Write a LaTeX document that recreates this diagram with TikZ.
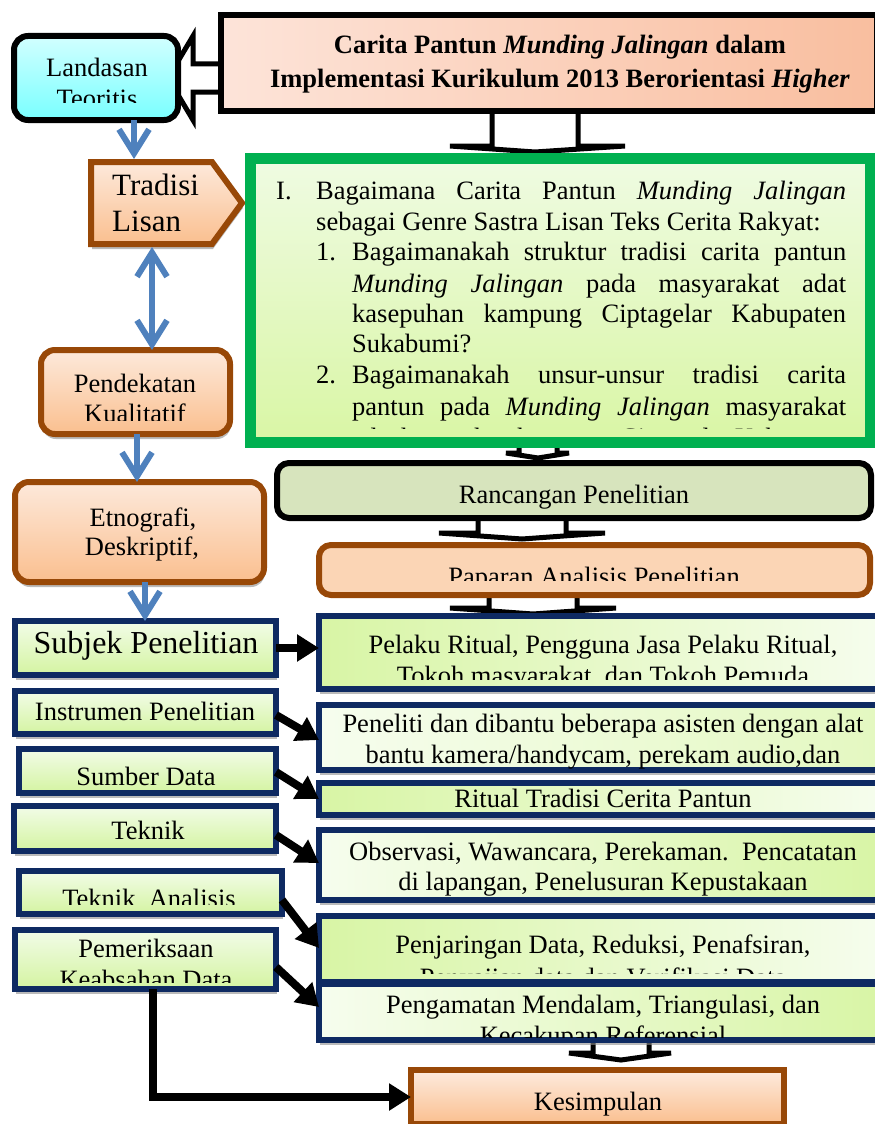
\documentclass[tikz,border=0pt]{standalone}
\usepackage{fontspec}
\setmainfont{Liberation Serif}
\usetikzlibrary{arrows.meta,shadows}
\pgfdeclarelayer{bg}
\pgfsetlayers{bg,main}
\definecolor{navy}{HTML}{0E2A62}
\definecolor{brn}{HTML}{984807}
\definecolor{grn}{HTML}{00B050}
\definecolor{blu}{HTML}{4F81BD}
\definecolor{ttlL}{HTML}{FDE4D9}
\definecolor{ttlR}{HTML}{F9BE9F}
\definecolor{cyT}{HTML}{D2FFFF}
\definecolor{cyB}{HTML}{78FFFF}
\definecolor{ort}{HTML}{FDE9DB}
\definecolor{orb}{HTML}{FABF8F}
\definecolor{lgt}{HTML}{F2FCE8}
\definecolor{lgb}{HTML}{D4F4A1}
\definecolor{lgA}{HTML}{D8F5A5}
\definecolor{lgW}{HTML}{F6FDEE}
\definecolor{qT}{HTML}{EFFBE2}
\definecolor{qB}{HTML}{D9F6A5}
\definecolor{ranc}{HTML}{D7E4BD}
\definecolor{papf}{HTML}{FBD5B5}
\newcommand\fsn{\fontsize{26.5pt}{30pt}\selectfont}
\newcommand\fsbig{\fontsize{31pt}{36pt}\selectfont}
\newcommand\fssub{\fontsize{32pt}{36pt}\selectfont}
\begin{document}
\begin{tikzpicture}[x=1pt,y=-1pt,
  shd/.style={drop shadow={shadow xshift=1pt,shadow yshift=-5pt,fill=black!45,opacity=0.6}},
  bx/.style={draw,line width=6pt,inner sep=0pt,outer sep=0pt},
  nbox/.style={bx,draw=navy,shd},
  lbox/.style={nbox,top color=lgt,bottom color=lgb},
  rbox/.style={nbox,minimum width=568pt},
  obox/.style={bx,draw=brn,rounded corners=14pt,top color=ort,bottom color=orb,shd},
  txt/.style={inner sep=0pt,anchor=base,font=\fsn},
  bluarr/.style={line width=6pt,draw=blu,-{Straight Barb[length=24pt,width=30pt]}},
  bludbl/.style={line width=6pt,draw=blu,{Straight Barb[length=24pt,width=30pt]}-{Straight Barb[length=24pt,width=30pt]}},
  blkarr/.style={line width=8pt,draw=black,-{Triangle[length=22pt,width=26pt]}},
  blockarr/.style={draw=black,fill=white,line width=5pt,line join=miter}
]
\useasboundingbox (0,0) rectangle (875,1124);

% ---------- boxes ----------
\node[bx,draw=black,left color=ttlL,right color=ttlR,minimum width=656pt,minimum height=96pt] (ttl) at (549,63) {};
\node[bx,draw=black,rounded corners=14pt,top color=cyT,bottom color=cyB,minimum width=164pt,minimum height=84pt] (land) at (96,78) {};
% Tradisi Lisan (pentagon arrow shape)
\path[draw=brn,line width=6pt,line join=miter,top color=ort,bottom color=orb,shd]
  (91,162) -- (212,162) -- (242,203) -- (212,244) -- (91,244) -- cycle;
\node[inner sep=0pt,outer sep=0pt,minimum width=151pt,minimum height=88pt] (trad) at (166.5,203) {};
\node[obox,minimum width=189pt,minimum height=84pt] (pend) at (135.5,392) {};
\node[obox,minimum width=249pt,minimum height=100pt] (etno) at (139.5,532) {};

\node[bx,draw=grn,line width=11pt,top color=qT,bottom color=qB,shd,minimum width=620pt,minimum height=284pt] (q) at (560.5,300.5) {};
\node[bx,draw=black,rounded corners=12pt,fill=ranc,minimum width=594pt,minimum height=55pt] (rc) at (574,490.5) {};
\node[bx,draw=brn,rounded corners=12pt,fill=papf,minimum width=551pt,minimum height=50pt] (pap) at (594.5,570) {};

\node[lbox,minimum width=261pt,minimum height=54pt] (subj) at (145.5,648) {};
\node[lbox,minimum width=261pt,minimum height=43pt] (instr) at (145.5,712.5) {};
\node[lbox,minimum width=257pt,minimum height=44pt] (sumb) at (147.5,771) {};
\node[lbox,minimum width=262pt,minimum height=45pt] (tek) at (145,828.5) {};
\node[lbox,minimum width=263pt,minimum height=43pt] (anal) at (150.5,892.5) {};
\node[lbox,minimum width=261pt,minimum height=59pt] (pem) at (145.5,959.5) {};

\node[rbox,left color=lgA,right color=lgW,minimum height=73pt] (pel) at (603,652.5) {};
\node[rbox,left color=lgW,right color=lgA!70!white,minimum height=65pt] (pnl) at (603,737.5) {};
\node[rbox,left color=lgA,right color=lgW,minimum height=32pt] (rit) at (603,799) {};
\node[rbox,left color=lgW,right color=lgA,minimum height=70pt] (obs) at (603,865) {};
\node[rbox,left color=lgA,right color=lgW,minimum height=66pt] (pnj) at (603,949) {};

% text of Penjaringan (partly hidden under the next box)
\begin{scope}
\clip (300,915) rectangle (890,973);
\node[txt] (tpnj1) at (603,953) {Penjaringan Data, Reduksi, Penafsiran,};
\node[txt] (tpnj2) at (603,986) {Penyajian data dan Verifikasi Data};
\end{scope}

\node[rbox,left color=lgW,right color=lgA,minimum height=56pt] (pgm) at (603,1012) {};
\node[bx,draw=brn,top color=ort!90!white,bottom color=orb,minimum width=373pt,minimum height=54pt] (kes) at (597.5,1097) {};

% ---------- block arrows (behind boxes) ----------
\begin{pgfonlayer}{bg}
\path[blockarr] (222,64) -- (193,64) -- (193,36) -- (168,78) -- (193,120) -- (193,92) -- (222,92) -- cycle;
\path[blockarr] (492,108) -- (492,146) -- (450,146) -- (535,152) -- (625,146) -- (578,146) -- (578,108) -- cycle;
\path[blockarr] (519,436) -- (519,453) -- (506,453) -- (538,458) -- (569,453) -- (557,453) -- (557,436) -- cycle;
\path[blockarr] (478,516) -- (478,533) -- (439,533) -- (522,539) -- (605,533) -- (566,533) -- (566,516) -- cycle;
\path[blockarr] (489,593) -- (489,608) -- (450,608) -- (533,614) -- (616,608) -- (577,608) -- (577,593) -- cycle;
\path[blockarr] (593,1036) -- (593,1053) -- (569,1053) -- (621,1060) -- (671,1053) -- (649,1053) -- (649,1036) -- cycle;
\end{pgfonlayer}

% ---------- texts ----------
\node[txt,font=\fsn\bfseries] (tt1) at (560,53) {Carita Pantun \textit{Munding Jalingan} dalam};
\node[txt,font=\fsn\bfseries] (tt2) at (560,87) {Implementasi Kurikulum 2013 Berorientasi \textit{Higher}};

\begin{scope}
\clip (20,40) rectangle (175,102);
\node[txt] (tl1) at (97,77) {Landasan};
\node[txt] (tl2) at (97,107) {Teoritis};
\end{scope}

\node[txt,anchor=base west,font=\fsbig] (tr1) at (112,195) {Tradisi};
\node[txt,anchor=base west,font=\fsbig] (tr2) at (112,231) {Lisan};

\begin{scope}
\clip (45,350) rectangle (225,420);
\node[txt] (tp1) at (135,392) {Pendekatan};
\node[txt] (tp2) at (135,422) {Kualitatif};
\end{scope}

\node[txt] (te1) at (143,526) {Etnografi,};
\node[txt] (te2) at (142,555) {Deskriptif,};

\begin{scope}
\clip (255,160) rectangle (866,428);
\node[txt,anchor=base west] (qI) at (276,199) {I.};
\node[txt,anchor=base west] (q1) at (316,199) {\makebox[530pt][s]{Bagaimana Carita Pantun \textit{Munding Jalingan}}};
\node[txt,anchor=base west] (q2) at (316,230) {sebagai Genre Sastra Lisan Teks Cerita Rakyat:};
\node[txt,anchor=base west] (qn1) at (316,260) {1.};
\node[txt,anchor=base west] (q3) at (352,260) {\makebox[494pt][s]{Bagaimanakah struktur tradisi carita pantun}};
\node[txt,anchor=base west] (q4) at (352,292) {\makebox[494pt][s]{\textit{Munding Jalingan} pada masyarakat adat}};
\node[txt,anchor=base west] (q5) at (352,322) {\makebox[494pt][s]{kasepuhan kampung Ciptagelar Kabupaten}};
\node[txt,anchor=base west] (q6) at (352,352) {Sukabumi?};
\node[txt,anchor=base west] (qn2) at (316,383) {2.};
\node[txt,anchor=base west] (q7) at (352,383) {\makebox[494pt][s]{Bagaimanakah unsur-unsur tradisi carita}};
\node[txt,anchor=base west] (q8) at (352,415) {\makebox[494pt][s]{pantun pada \textit{Munding Jalingan} masyarakat}};
\node[txt,anchor=base west] (q9) at (352,446) {\makebox[494pt][s]{adat kasepuhan kampung Ciptagelar Kabupaten}};
\end{scope}

\node[txt] (trc) at (574,503) {Rancangan Penelitian};
\begin{scope}
\clip (320,545) rectangle (870,580);
\node[txt] (tpap) at (594,585) {Paparan Analisis Penelitian};
\end{scope}

\node[txt,font=\fssub] (ts) at (146,653) {Subjek Penelitian};
\node[txt] (ti) at (145,720) {Instrumen Penelitian};
\node[txt] (tsd) at (146,785) {Sumber Data};
\node[txt] (ttk) at (148,839) {Teknik};
\begin{scope}
\clip (20,870) rectangle (280,904);
\node[txt] (tta) at (149,907) {Teknik\ \ Analisis};
\end{scope}
\begin{scope}
\clip (15,930) rectangle (276,982);
\node[txt] (tpm1) at (146,957) {Pemeriksaan};
\node[txt] (tpm2) at (146,988) {Keabsahan Data};
\end{scope}

\begin{scope}
\clip (320,616) rectangle (890,679);
\node[txt] (tpl1) at (603,653) {Pelaku Ritual, Pengguna Jasa Pelaku Ritual,};
\node[txt] (tpl2) at (603,684) {Tokoh masyarakat, dan Tokoh Pemuda};
\end{scope}
\node[txt] (tpn1) at (603,732) {Peneliti dan dibantu beberapa asisten dengan alat};
\node[txt] (tpn2) at (603,763) {bantu kamera/handycam, perekam audio,dan};
\node[txt] (trt) at (603,807) {Ritual Tradisi Cerita Pantun};
\node[txt] (tob1) at (603,860) {Observasi, Wawancara, Perekaman.\ \ Pencatatan};
\node[txt] (tob2) at (603,890) {di lapangan, Penelusuran Kepustakaan};
\begin{scope}
\clip (320,984) rectangle (890,1037);
\node[txt] (tpg1) at (603,1013) {Pengamatan Mendalam, Triangulasi, dan};
\node[txt] (tpg2) at (603,1044) {Kecakupan Referensial};
\end{scope}
\node[txt] (tks) at (598,1110) {Kesimpulan};

% ---------- connectors ----------
\draw[bluarr] (134,0 |- land.south) -- (134,0 |- trad.north);
\draw[bludbl] (152,0 |- trad.south) -- (152,0 |- pend.north);
\draw[bluarr] (137,0 |- pend.south) -- (137,0 |- etno.north);
\draw[bluarr] (145,0 |- etno.south) -- (145,0 |- subj.north);

\draw[blkarr] (subj.east) -- (subj.east -| pel.west);
\draw[blkarr] (instr.east |- 0,715) -- (pnl.west |- 0,740);
\draw[blkarr] (sumb.east |- 0,772) -- (rit.west |- 0,799);
\draw[blkarr] (tek.east |- 0,835) -- (obs.west |- 0,863);
\draw[blkarr] (anal.east |- 0,900) -- (pnj.west |- 0,948);
\draw[blkarr] (pem.east |- 0,967) -- (pgm.west |- 0,1007);
\draw[blkarr] (153,0 |- pem.south) |- (kes.west);
\end{tikzpicture}
\end{document}
